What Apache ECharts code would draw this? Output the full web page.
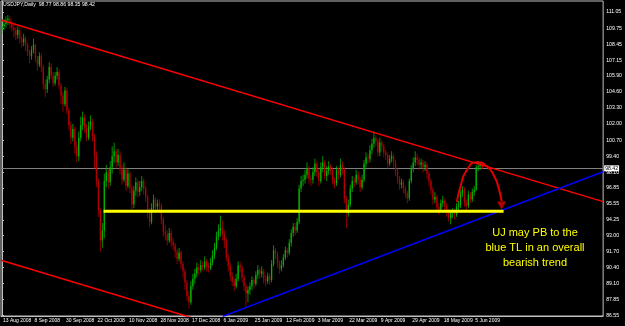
<!DOCTYPE html>
<html><head><meta charset="utf-8">
<script src="https://cdn.jsdelivr.net/npm/echarts@6/dist/echarts.min.js"></script>
<style>html,body{margin:0;padding:0;background:#000;overflow:hidden}#c{width:625px;height:326px}</style>
</head><body><div id="c"></div>
<script>
const symbolTitle = 'USDJPY,Daily';
const dateLabels = ['13 Aug 2008','8 Sep 2008','30 Sep 2008','22 Oct 2008','10 Nov 2008','28 Nov 2008','17 Dec 2008','6 Jan 2009','25 Jan 2009','12 Feb 2009','3 Mar 2009','22 Mar 2009','9 Apr 2009','29 Apr 2009','18 May 2009','5 Jun 2009'];
const labelStep = 16;
const slotCount = 306;
const yTicks = [111.05,109.75,108.45,107.15,105.90,104.60,103.30,102.00,100.70,99.40,98.10,96.85,95.55,94.25,93.00,91.70,90.40,89.10,87.85,86.55];
// [open, close, low, high]
const candles = [
[109.6,109.9,109.3,110.5],[109.9,110.1,109.6,110.5],[110.1,110.4,109.8,110.7],[110.4,110.5,110.0,110.8],[110.5,110.1,109.7,110.7],
[110.1,109.8,109.5,110.3],[109.8,109.6,109.0,110.0],[109.6,109.2,108.8,109.8],[109.2,109.6,108.9,109.9],[109.6,108.9,108.5,109.8],
[108.9,108.6,108.2,109.1],[108.6,108.9,108.3,109.3],[108.9,108.4,107.9,109.1],[108.4,107.8,107.5,108.6],[107.8,107.5,106.9,108.0],
[107.5,108.0,107.2,108.3],[108.0,108.4,107.7,108.9],[108.4,107.3,107.0,108.5],[107.3,106.8,106.3,107.5],[106.8,107.5,106.6,107.8],
[107.5,106.6,106.2,107.7],[106.6,105.2,104.8,106.8],[105.2,104.8,104.2,105.6],[104.8,105.6,104.5,105.9],[105.6,106.6,105.3,107.0],
[106.6,105.9,105.6,106.9],[105.9,105.3,105.0,106.2],[105.3,105.9,105.1,106.2],[105.9,106.2,105.6,106.6],[106.2,105.1,104.8,106.4],
[105.1,104.3,103.6,105.3],[104.3,103.6,103.0,104.6],[103.6,104.7,103.4,105.0],[104.7,103.1,102.8,104.9],[103.1,101.9,101.5,103.3],
[101.9,100.9,100.4,102.2],[100.9,101.6,100.6,102.0],[101.6,100.2,99.6,101.8],[100.2,99.4,98.9,100.6],[99.4,100.9,99.0,101.4],
[100.9,101.9,100.6,102.6],[101.9,102.5,101.5,103.0],[102.5,101.7,101.3,102.8],[101.7,100.9,100.6,102.0],[100.9,101.8,100.7,102.2],
[101.8,102.2,101.5,102.7],[102.2,101.0,100.6,102.4],[101.0,99.5,98.4,101.2],[99.5,97.4,96.9,99.8],[97.4,95.0,94.5,97.6],
[95.0,92.6,91.7,95.2],[92.6,93.4,92.0,94.0],[93.4,97.4,92.8,98.0],[97.4,98.1,96.9,98.7],[98.1,97.3,96.8,98.4],
[97.3,98.5,97.0,99.0],[98.5,99.4,98.0,100.2],[99.4,99.8,98.9,100.5],[99.8,98.9,98.4,100.0],[98.9,99.5,98.6,100.0],
[99.5,98.4,97.9,99.8],[98.4,97.5,97.1,98.7],[97.5,98.3,97.3,98.9],[98.3,97.0,96.6,98.5],[97.0,98.0,96.8,98.4],
[98.0,96.8,96.4,98.2],[96.8,95.5,95.1,97.0],[95.5,96.6,95.2,97.0],[96.6,97.3,96.2,97.7],[97.3,96.5,96.1,97.5],
[96.5,96.9,96.2,97.4],[96.9,97.4,96.6,97.8],[97.4,96.8,96.3,97.6],[96.8,96.1,95.7,97.0],[96.1,94.9,94.4,96.3],
[94.9,94.1,93.7,95.2],[94.1,95.2,93.9,95.6],[95.2,95.9,94.9,96.3],[95.9,95.3,94.9,96.1],[95.3,95.6,95.0,95.9],
[95.6,95.4,95.0,95.9],[95.4,94.3,93.9,95.6],[94.3,93.3,92.9,94.5],[93.3,93.1,92.6,93.8],[93.1,92.6,92.2,93.4],
[92.6,93.2,92.4,93.6],[93.2,92.5,92.1,93.5],[92.5,92.2,91.8,92.8],[92.2,91.7,91.2,92.4],[91.7,91.1,90.7,91.9],
[91.1,91.6,90.9,92.0],[91.6,90.7,90.3,91.8],[90.7,90.1,89.6,90.9],[90.1,89.2,88.6,90.3],[89.2,88.1,87.7,89.4],
[88.1,87.6,87.1,88.5],[87.6,88.9,87.4,89.3],[88.9,89.5,88.6,89.9],[89.5,89.9,89.1,90.3],[89.9,90.4,89.6,90.8],
[90.4,90.2,89.8,90.7],[90.2,90.6,90.0,91.0],[90.6,90.4,90.1,90.9],[90.4,90.9,90.2,91.3],[90.9,90.5,90.1,91.1],
[90.5,90.4,90.0,90.8],[90.4,90.8,90.2,91.2],[90.8,91.4,90.6,91.8],[91.4,92.0,91.1,92.4],[92.0,92.9,91.8,93.3],
[92.9,93.4,92.6,93.9],[93.4,93.6,92.9,94.6],[93.6,93.1,92.6,94.2],[93.1,92.6,92.0,93.4],[92.6,91.2,90.9,92.8],
[91.2,90.5,90.1,91.5],[90.5,89.7,89.3,90.8],[89.7,89.3,88.9,90.0],[89.3,88.9,88.5,89.5],[88.9,89.5,88.7,89.9],
[89.5,90.6,89.3,90.9],[90.6,90.4,90.0,90.9],[90.4,89.6,89.2,90.6],[89.6,88.9,88.5,89.8],[88.9,88.3,87.1,89.1],
[88.3,88.6,87.6,88.9],[88.6,88.9,88.2,89.2],[88.9,89.4,88.6,89.7],[89.4,89.1,88.7,89.6],[89.1,89.8,88.9,90.1],
[89.8,90.2,89.5,90.6],[90.2,89.9,89.5,90.4],[89.9,90.1,89.6,90.5],[90.1,89.5,89.1,90.3],[89.5,89.3,88.9,89.8],
[89.3,89.7,89.1,90.0],[89.7,89.4,89.0,89.9],[89.4,90.7,89.2,91.0],[90.7,91.8,90.5,92.2],[91.8,91.5,91.1,92.0],
[91.5,90.8,90.4,91.7],[90.8,90.3,89.9,91.0],[90.3,90.6,90.1,91.0],[90.6,91.2,90.4,91.5],[91.2,91.8,91.0,92.1],
[91.8,91.6,91.2,92.0],[91.6,92.4,91.4,92.7],[92.4,93.2,92.1,93.5],[93.2,93.7,92.9,94.0],[93.7,93.4,93.0,94.0],
[93.4,94.1,93.2,94.4],[94.1,96.8,93.9,97.1],[96.8,97.4,96.5,97.8],[97.4,97.5,97.0,97.9],[97.5,97.9,97.2,98.3],
[97.9,98.4,97.6,98.9],[98.4,97.6,97.2,98.6],[97.6,97.5,97.0,97.9],[97.5,98.1,97.2,98.5],[98.1,98.8,97.8,99.2],
[98.8,98.1,97.7,99.0],[98.1,97.4,97.0,98.4],[97.4,98.5,97.2,98.9],[98.5,98.9,98.1,99.4],[98.9,97.8,97.5,99.1],
[97.8,98.2,97.4,98.6],[98.2,98.6,97.9,99.0],[98.6,98.3,97.9,98.8],[98.3,97.5,97.1,98.5],[97.5,97.2,96.8,97.7],
[97.2,98.3,97.0,98.6],[98.3,97.9,97.5,98.5],[97.9,98.7,97.7,99.2],[98.7,98.3,97.9,99.0],[98.3,96.0,95.6,98.5],
[96.0,94.8,93.6,96.2],[94.8,95.5,94.5,95.9],[95.5,96.8,95.3,97.1],[96.8,97.4,96.5,97.8],[97.4,97.3,96.9,97.7],
[97.3,97.9,97.1,98.3],[97.9,97.5,97.1,98.2],[97.5,96.9,96.5,97.7],[96.9,97.5,96.7,97.9],[97.5,98.8,97.3,99.1],
[98.8,99.3,98.5,99.7],[99.3,99.2,98.8,99.6],[99.2,99.9,98.9,100.3],[99.9,100.4,99.6,100.8],[100.4,100.9,100.1,101.4],
[100.9,100.6,100.2,101.1],[100.6,99.7,99.4,100.8],[99.7,100.5,99.4,100.9],[100.5,100.2,99.8,100.7],[100.2,99.7,99.3,100.4],
[99.7,99.5,99.1,99.9],[99.5,98.8,98.4,99.7],[98.8,99.2,98.6,99.5],[99.2,99.4,98.9,99.8],[99.4,98.9,98.5,99.6],
[98.9,98.2,97.8,99.1],[98.2,97.6,97.2,98.4],[97.6,97.1,96.7,97.8],[97.1,97.3,96.8,97.6],[97.3,96.8,96.4,97.5],
[96.8,96.4,96.0,97.0],[96.4,96.0,95.6,96.6],[96.0,97.4,95.8,97.6],[97.4,98.4,97.2,98.7],[98.4,98.9,98.1,99.3],
[98.9,99.3,98.6,99.8],[99.3,99.1,98.7,99.6],[99.1,98.7,98.3,99.3],[98.7,98.9,98.4,99.2],[98.9,98.5,98.1,99.1],
[98.5,98.7,98.2,99.0],[98.7,98.0,97.6,98.9],[98.0,97.4,97.0,98.2],[97.4,96.7,96.3,97.6],[96.7,95.9,95.5,96.9],
[95.9,96.1,95.6,96.5],[96.1,95.3,94.9,96.3],[95.3,95.1,94.7,95.6],[95.1,95.6,94.9,95.9],[95.6,95.8,95.3,96.2],
[95.8,95.4,95.0,96.0],[95.4,94.9,94.5,95.6],[94.9,94.4,94.1,95.1],[94.4,94.8,93.9,95.0],[94.8,94.9,94.4,95.2],
[94.9,94.7,94.3,95.1],[94.7,95.3,94.5,95.6],[95.3,95.4,95.0,95.8],[95.4,96.4,95.2,96.7],[96.4,96.7,96.1,97.0],
[96.7,95.6,95.3,96.9],[95.6,95.4,95.0,95.9],[95.4,96.3,95.2,96.6],[96.3,95.9,95.6,96.5],[95.9,96.5,95.7,96.8],
[96.5,96.7,96.2,97.0],[96.7,98.5,96.6,98.7],[98.5,98.6,98.2,99.0],[98.6,98.77,98.3,98.9],[98.77,98.42,98.35,98.86]
];
// annotation lines: [barIndex, price]
const upperRedTL = [[-0.5,110.40],[305.5,95.73]];
const lowerRedTL = [[-0.5,91.0],[110,85.70]];
const blueTL = [[112.1,86.45],[305.5,98.15]];
const yellowLevel = [[51.6,94.95],[254.9,94.95]];
const arcPath = [[231.2,95.69],[233.2,97.06],[236.2,98.27],[241.3,98.92],[246.3,98.60],[249.9,97.87],[252.4,96.82],[253.9,95.77]];
const arrowHead = [[253.9,95.42]];
const noteText = ['UJ may PB to the','blue TL in an overall','bearish trend'];

const UP = '#00b400', DOWN = '#b40000';
const last = candles[candles.length-1];
const fmt = v => v.toFixed(2);
const categories = Array.from({length: slotCount}, (_, i) => String(i));
const candleRows = candles.map((r, i) => [i, r[0], r[1], r[2], r[3]]);
const showIdx = i => i % labelStep === 0 && i / labelStep < dateLabels.length;

const chart = echarts.init(document.getElementById('c'), null, {renderer:'canvas'});
const lineS = (name, data, color, width, extra) => Object.assign({
  name, type:'line', xAxisIndex:1, data, symbol:'none', silent:true,
  lineStyle:{color, width}, itemStyle:{color}, clip:true, z:5
}, extra||{});

function renderCandle(params, api) {
  const i = api.value(0), o = api.value(1), c = api.value(2), l = api.value(3), h = api.value(4);
  const pHi = api.coord([i, h]), pLo = api.coord([i, l]);
  const pTop = api.coord([i, Math.max(o, c)]), pBot = api.coord([i, Math.min(o, c)]);
  const col = c >= o ? UP : DOWN;
  const x = pHi[0];
  return {type:'group', children:[
    {type:'line', shape:{x1:x, y1:pHi[1], x2:x, y2:pLo[1]}, style:{stroke:col, lineWidth:0.8}},
    {type:'rect', shape:{x:x-0.65, y:pTop[1], width:1.3, height:Math.max(pBot[1]-pTop[1], 1)}, style:{fill:col}}
  ]};
}

chart.setOption({
  animation:false,
  backgroundColor:'#000',
  title:{text: symbolTitle + '  ' + [last[0],last[3],last[2],last[1]].map(fmt).join(' '),
    left:3, top:2, padding:0,
    textStyle:{color:'#ffffff', fontSize:5.2, fontWeight:'normal', fontFamily:'Liberation Sans'}},
  grid:{left:0, right:20, top:1, bottom:10, show:true, borderColor:'#c0c0c0', borderWidth:1, backgroundColor:'#000'},
  xAxis:[{
    type:'category', data:categories, boundaryGap:true,
    axisLine:{lineStyle:{color:'#c0c0c0'}},
    axisTick:{alignWithLabel:true, interval:(i)=>showIdx(i), length:2, lineStyle:{color:'#c0c0c0'}},
    axisLabel:{interval:(i)=>showIdx(i), formatter:(v,i)=>showIdx(i)?dateLabels[i/labelStep]:'',
      color:'#ffffff', fontSize:5, fontFamily:'Liberation Sans', align:'left', margin:2, padding:[0,0,0,1], hideOverlap:false},
    splitLine:{show:false}
  },{
    type:'value', min:-0.5, max:slotCount-0.5, show:false
  }],
  yAxis:{
    type:'value', position:'right', min:86.49, max:111.94, scale:true,
    axisLine:{show:true, lineStyle:{color:'#c0c0c0'}},
    axisTick:{show:true, customValues:yTicks, length:2, lineStyle:{color:'#c0c0c0'}},
    axisLabel:{customValues:yTicks, formatter:v=>fmt(v), color:'#ffffff', fontSize:5.2, fontFamily:'Liberation Sans', margin:3},
    splitLine:{show:false}
  },
  series:[
    {type:'custom', name:'USDJPY', xAxisIndex:1, data:candleRows, encode:{x:0, y:[1,2,3,4]},
      renderItem:renderCandle, z:3, clip:true, silent:true,
      markLine:{symbol:'none', silent:true, z:2, data:[{yAxis:last[1]}],
        lineStyle:{color:'#808080', type:'solid', width:1},
        label:{position:'end', formatter:()=>fmt(last[1]), backgroundColor:'#ffffff', color:'#000000',
          fontSize:5.2, fontFamily:'Liberation Sans', padding:[1,1,0,1], distance:1}}
    },
    lineS('upperRed', upperRedTL, '#ff0000', 1.5),
    lineS('lowerRed', lowerRedTL, '#ff0000', 1.5),
    lineS('blueTL', blueTL, '#0000ff', 1.5),
    lineS('yellow', yellowLevel, '#ffff00', 3),
    lineS('arc', arcPath, '#e00000', 2, {smooth:0.6, z:6}),
    {type:'scatter', xAxisIndex:1, data:arrowHead, symbol:'triangle', symbolRotate:180, symbolSize:[9,8],
      itemStyle:{color:'#e00000'}, silent:true, z:7}
  ],
  graphic:[{type:'text', x:535, y:225, silent:true, z:10,
    style:{text:noteText.join('\n'), fill:'#ffff00', font:'11px "Liberation Sans"', align:'center', verticalAlign:'top', lineHeight:15}}]
});
</script></body></html>
